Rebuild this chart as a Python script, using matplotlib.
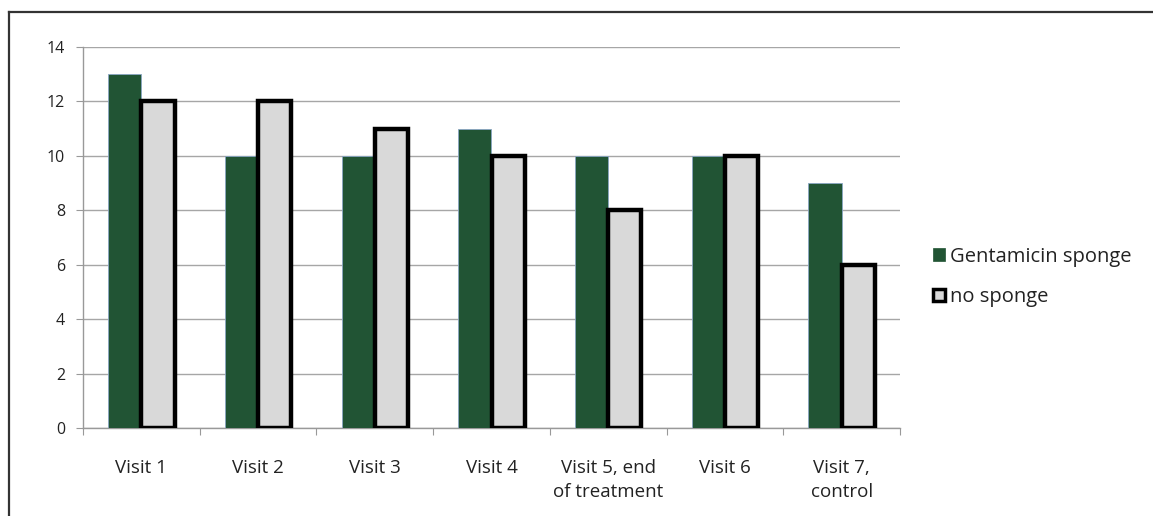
import matplotlib
matplotlib.use("Agg")
import matplotlib.pyplot as plt
import numpy as np
from matplotlib.patches import Patch
from matplotlib.lines import Line2D

categories = ["Visit 1", "Visit 2", "Visit 3", "Visit 4",
              "Visit 5, end\nof treatment", "Visit 6", "Visit 7,\ncontrol"]
gentamicin = [13, 10, 10, 11, 10, 10, 9]
no_sponge = [12, 12, 11, 10, 8, 10, 6]
yticks = [0, 2, 4, 6, 8, 10, 12, 14]
series_names = ["Gentamicin sponge", "no sponge"]

plt.rcParams['font.family'] = ['Open Sans', 'DejaVu Sans']

W, H = 1153, 516
fig = plt.figure(figsize=(W / 100, H / 100), dpi=100)
ax = fig.add_axes([83 / W, 1 - 428 / H, (900 - 83) / W, (428 - 47) / H])

x = np.arange(len(categories))
bw = 0.285
green = "#215434"
ax.bar(x - bw / 2, gentamicin, width=bw, color=green, edgecolor="#8aa6c4",
       linewidth=0.6, zorder=3)
ax.bar(x + bw / 2, no_sponge, width=bw, color="#d9d9d9", edgecolor="black",
       linewidth=3.2, zorder=3)

ax.set_xlim(-0.5, len(categories) - 0.5)
ax.set_ylim(0, 14)
ax.set_yticks(yticks)
ax.yaxis.grid(True, color="#a6a6a6", linewidth=1.0, zorder=0)
ax.set_axisbelow(True)

ax.set_xticks(np.arange(len(categories) + 1) - 0.5)
ax.set_xticklabels([])
ax.set_xticks(x, minor=True)
ax.set_xticklabels(categories, minor=True, fontsize=13.5, color="#222222",
                   linespacing=1.38, va="top")
ax.tick_params(axis="x", which="minor", length=0, pad=22.5)
ax.tick_params(axis="x", which="major", length=5, color="#999999")
ax.tick_params(axis="y", length=5, color="#999999", labelsize=11.5,
               labelcolor="#222222", pad=8)

for s in ["top", "right"]:
    ax.spines[s].set_visible(False)
for s in ["left", "bottom"]:
    ax.spines[s].set_color("#999999")
    ax.spines[s].set_linewidth(1.0)

handles = [Patch(facecolor=green, edgecolor=green, linewidth=0.5),
           Patch(facecolor="#d9d9d9", edgecolor="black", linewidth=2.5)]
fig.legend(handles, series_names, loc="center left",
           bbox_to_anchor=(915 / W, 1 - 277 / H), frameon=False,
           fontsize=14.5, handlelength=0.6, handleheight=0.6,
           handletextpad=0.25, labelspacing=1.0, labelcolor="#222222")

fig.add_artist(Line2D([9 / W, 1], [1 - 12 / H, 1 - 12 / H], color="#333333",
                      linewidth=1.6, transform=fig.transFigure))
fig.add_artist(Line2D([9 / W, 9 / W], [1 - 12 / H, 0], color="#333333",
                      linewidth=1.6, transform=fig.transFigure))

fig.savefig("out.png", dpi=100)
